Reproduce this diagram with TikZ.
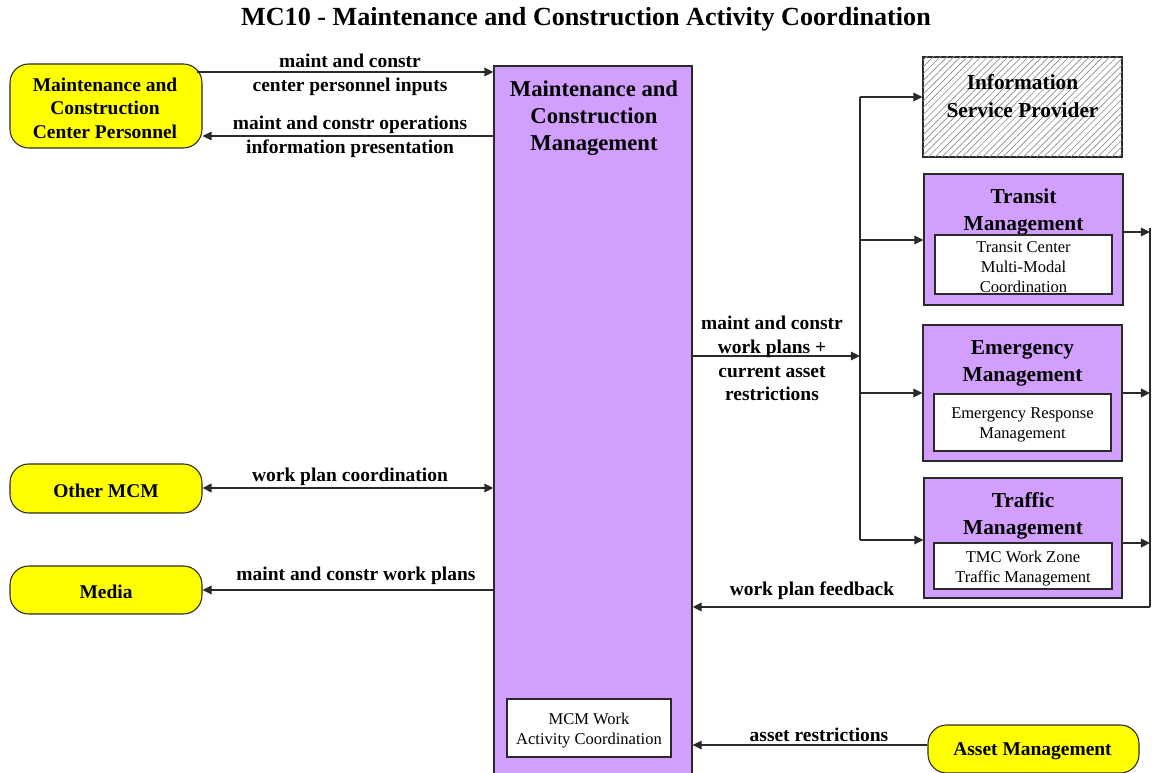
\documentclass[tikz,border=0pt]{standalone}
\usepackage{fontspec}
\setmainfont{Liberation Serif}
\usetikzlibrary{arrows.meta,patterns.meta,calc}
\definecolor{lilac}{HTML}{D29FFF}
\definecolor{ylw}{HTML}{FFFF00}
\definecolor{ink}{HTML}{2A2A2A}
\begin{document}
\begin{tikzpicture}[x=0.75pt,y=-0.75pt,
  down/.style={yshift=-1.6pt},
  ext/.style={draw=ink, line width=0.8pt, fill=ylw, rounded corners=14pt,
    minimum width=144pt, inner sep=0pt},
  exttext/.style={align=center, inner sep=0pt, down,
    font=\fontsize{14.6}{17.6}\selectfont\bfseries},
  sub/.style={draw=ink, line width=1pt, fill=lilac, inner sep=0pt,
    minimum width=149.25pt},
  subtitle/.style={align=center, inner sep=0pt, down,
    font=\fontsize{16}{20.5}\selectfont\bfseries},
  inbox/.style={draw=ink, line width=0.8pt, fill=white, inner sep=0pt},
  intext/.style={align=center, inner sep=0pt, down,
    font=\fontsize{12.4}{15}\selectfont},
  tip/.tip={Triangle[length=6.8pt,width=6.5pt]},
  flow/.style={-tip, draw=ink, line width=0.9pt},
  flowbold/.style={flow, line width=1.4pt},
  lbl/.style={align=center, inner sep=0pt,
    font=\fontsize{14.6}{17.8}\selectfont\bfseries}]
\useasboundingbox (0,0) rectangle (1152,773);

% title
\node[down, font=\fontsize{19.6}{22}\selectfont\bfseries] (title) at (586,17)
  {MC10 - Maintenance and Construction Activity Coordination};

% central subsystem
\node[sub, minimum width=148.5pt, minimum height=535.5pt] (mcm) at (593,423) {};
\node[align=center, inner sep=0pt, down, font=\fontsize{17}{20.6}\selectfont\bfseries]
  (mcmT) at (594,116) {Maintenance and\\Construction\\Management};
\node[inbox, minimum width=123pt, minimum height=43.5pt] (mcmI) at (589,728) {};
\node[intext] (mcmIt) at (589,728) {MCM Work\\Activity Coordination};

% terminators
\node[ext, minimum height=63pt] (mccp) at (106,106) {};
\node[exttext] (mccpT) at (105,106) {Maintenance and\\Construction\\Center Personnel};
\node[ext, minimum height=36.75pt] (omcm) at (106,488.5) {};
\node[exttext] (omcmT) at (106,488.5) {Other MCM};
\node[ext, minimum height=36pt] (media) at (106,590) {};
\node[exttext] (mediaT) at (106,590) {Media};
\node[ext, minimum width=158.25pt, minimum height=36pt] (asset) at (1033.5,749) {};
\node[exttext] (assetT) at (1032.5,749) {Asset Management};

% information service provider (hatched)
\node[draw=ink, line width=1pt, fill=white, inner sep=0pt,
  minimum width=149.25pt, minimum height=75pt,
  postaction={pattern={Lines[angle=45,distance=3.6pt,line width=0.5pt]},
    pattern color=black!45}] (isp) at (1022.5,107) {};
\node[subtitle] (ispT) at (1022.5,94) {Information\\Service Provider};

% transit management
\node[sub, minimum height=98.25pt] (trm) at (1023.5,239.5) {};
\node[subtitle] (trmT) at (1023.5,209.5) {Transit\\Management};
\node[inbox, minimum width=132.75pt, minimum height=44.25pt] (trmI) at (1023.5,264.5) {};
\node[intext] (trmIt) at (1023.5,264.5) {Transit Center\\Multi-Modal\\Coordination};

% emergency management
\node[sub, minimum height=102pt] (em) at (1022.5,393) {};
\node[subtitle] (emT) at (1022.5,361) {Emergency\\Management};
\node[inbox, minimum width=132.75pt, minimum height=42.75pt] (emI) at (1022.5,422.5) {};
\node[intext] (emIt) at (1022.5,422.5) {Emergency Response\\Management};

% traffic management
\node[sub, minimum width=148.5pt, minimum height=90pt] (tm) at (1023,538) {};
\node[subtitle] (tmT) at (1023,513.5) {Traffic\\Management};
\node[inbox, minimum width=133.5pt, minimum height=34.5pt] (tmI) at (1023,566) {};
\node[intext] (tmIt) at (1023,566) {TMC Work Zone\\Traffic Management};

% bus and return line
\coordinate (busIn) at (860,356);
\coordinate (busTop) at (860,97);
\coordinate (busBot) at (860,540);
\coordinate (retTop) at (1150,228);
\coordinate (retBot) at (1150,607);

% flows on the left
\draw[flowbold] ([xshift=-4.5pt]mccp.east |- 0,72) -- (mcm.west |- 0,72);
\node[lbl] (l1) at (350,75) {maint and constr\\center personnel inputs};
\draw[flow] (mcm.west |- 0,136) -- (mccp.east |- 0,136);
\node[lbl] (l2) at (350,136.5) {maint and constr operations\\information presentation};
\draw[flowbold, tip-tip] (omcm.east |- 0,488) -- (mcm.west |- 0,488);
\node[lbl] (l3) at (350,477) {work plan coordination};
\draw[flow] (mcm.west |- 0,590) -- (media.east |- 0,590);
\node[lbl] (l4) at (356,576) {maint and constr work plans};

% outgoing bus
\draw[flow] (mcm.east |- busIn) -- (busIn);
\node[lbl] (l5) at (772,358.5) {maint and constr\\work plans +\\current asset\\restrictions};
\draw[draw=ink, line width=0.9pt] (busTop) -- (busBot);
\draw[flow] (busTop) -- (isp.west |- busTop);
\draw[draw=ink, line width=1.6pt] (busTop) -- ++(40,0);
\draw[flow] (860,240) -- (trm.west |- 0,240);
\draw[flow] (860,393) -- (em.west |- 0,393);
\draw[draw=ink, line width=1.6pt] (860,393) -- ++(17,0);
\draw[flow] (busBot) -- (tm.west |- busBot);

% feedback
\draw[flow] (trm.east |- 0,232) -- (retTop |- 0,232);
\draw[flowbold] (em.east |- 0,393) -- (retTop |- 0,393);
\draw[flowbold] (tm.east |- 0,543) -- (retTop |- 0,543);
\draw[draw=ink, line width=1.4pt] (retTop) -- (retBot);
\draw[flowbold] (retBot) -- (mcm.east |- retBot);
\node[lbl] (l6) at (812,591) {work plan feedback};

% asset restrictions
\draw[flow] (asset.west |- 0,745) -- (mcm.east |- 0,745);
\node[lbl] (l7) at (819,735) {asset restrictions};
\end{tikzpicture}
\end{document}
